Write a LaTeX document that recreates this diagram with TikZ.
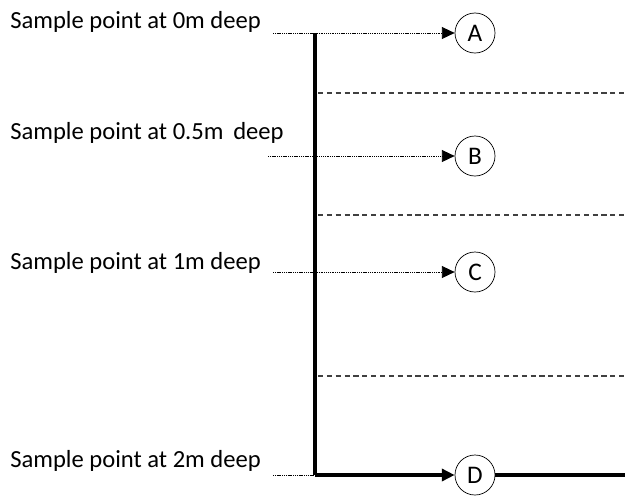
\documentclass[tikz,border=0pt]{standalone}
\usepackage{fontspec}
\setmainfont{Carlito}
\usetikzlibrary{arrows.meta}
\begin{document}
\begin{tikzpicture}[x=0.025cm, y=-0.025cm,
    label text/.style={anchor=west, inner sep=0pt, font=\fontsize{17.5}{20}\selectfont},
    sample/.style={draw, circle, minimum size=1cm, inner sep=0pt, line width=0.5pt, font=\fontsize{18}{20}\selectfont},
    lead/.style={line width=0.6pt, dash pattern=on 0.8pt off 0.5pt},
    tip/.style={-{Triangle[length=0.32cm, width=0.3cm]}},
    probe/.style={line width=2.4pt},
    layer/.style={line width=1.1pt, black!75, dash pattern=on 3.6pt off 2.7pt}]
    \useasboundingbox (0,0) rectangle (625,496);

    % depth labels
    \node[label text] (t0) at (10,22) {Sample point at 0m deep};
    \node[label text] (t1) at (10,133) {Sample point at 0.5m\, deep};
    \node[label text] (t2) at (10,263) {Sample point at 1m deep};
    \node[label text] (t3) at (10,461) {Sample point at 2m deep};

    % sample points
    \node[sample] (A) at (475,33) {A};
    \node[sample] (B) at (475,156) {B};
    \node[sample] (C) at (475,272) {C};
    \node[sample] (D) at (475,475) {D};

    \coordinate (s0) at (273,33);
    \coordinate (s1) at (268,156);
    \coordinate (s2) at (273,272);
    \coordinate (s3) at (273,475);
    \coordinate (top) at (315,33);
    \coordinate (bottom) at (315,475);
    \coordinate (out) at (625,475);

    % leads to the points
    \draw[lead, tip] (s0) -- (A);
    \draw[lead, tip] (s1) -- (B);
    \draw[lead, tip] (s2) -- (C);
    \draw[lead] (s3) -- (bottom);

    % probe line
    \draw[probe] (top) -- (bottom);
    \draw[probe, tip] (bottom) -- (D);
    \draw[probe] (D) -- (out);

    % layer boundaries
    \coordinate (l0) at (318,93);   \coordinate (r0) at (625,93);
    \coordinate (l1) at (318,215);  \coordinate (r1) at (625,215);
    \coordinate (l2) at (318,376);  \coordinate (r2) at (625,376);
    \draw[layer] (l0) -- (r0);
    \draw[layer] (l1) -- (r1);
    \draw[layer] (l2) -- (r2);
\end{tikzpicture}
\end{document}
